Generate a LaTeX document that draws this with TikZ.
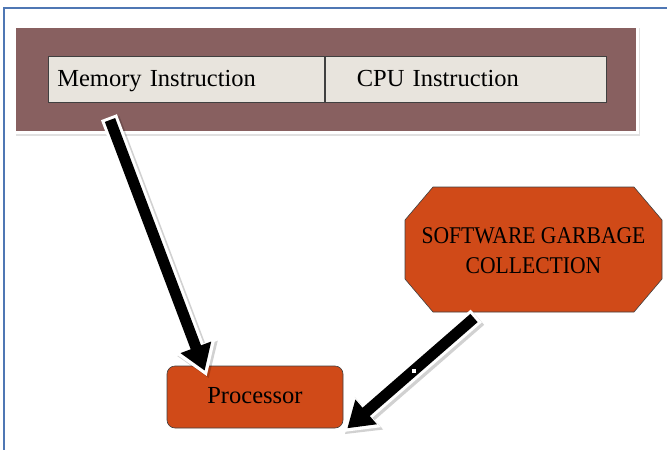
\documentclass[tikz,border=0pt]{standalone}
\usepackage{fontspec}
\setmainfont{Liberation Serif}
\newfontfamily\narrowserif[FakeStretch=0.9]{Liberation Serif}
\usetikzlibrary{arrows.meta,calc}
\definecolor{frameblue}{RGB}{79,119,180}
\definecolor{plum}{RGB}{136,96,96}
\definecolor{paper}{RGB}{232,228,221}
\definecolor{rust}{RGB}{208,74,24}
\tikzset{
  cell/.style={draw=black!75, line width=0.6pt, fill=paper, anchor=north west,
    minimum height=46pt, inner ysep=0pt, align=left,
    text height=16pt, text depth=2pt,
    font=\fontsize{24.5}{28}\selectfont},
  procbox/.style={draw=black!75, line width=0.6pt, fill=rust, rounded corners=8pt,
    minimum width=176pt, minimum height=62pt, text height=16pt, text depth=3pt,
    font=\fontsize{24.5}{28}\selectfont},
  gctext/.style={minimum width=257pt, minimum height=125pt, align=center,
    font=\narrowserif\fontsize{24}{30}\selectfont},
  fatshadow/.style={black, opacity=0.18, line width=18pt,
    -{Triangle[length=32pt,width=41pt]}},
  fatedge/.style={white, line width=17pt, -{Triangle[length=32pt,width=40pt]}},
  fatarrow/.style={black, line width=11pt, -{Triangle[length=25pt,width=31pt]}}
}
\begin{document}
\begin{tikzpicture}[x=1pt,y=-1pt]
\useasboundingbox (0,0) rectangle (667,450);

% page frame
\draw[frameblue, line width=1.5pt] (4,451) -- (4,8) -- (668,8);

% instruction banner
\fill[black, opacity=0.12] (16,28) rectangle (640,136);
\fill[black, opacity=0.12] (17,29) rectangle (639,134);
\draw[white, line width=3pt, fill=plum] (14,26) rectangle (637,132);
\node[cell, minimum width=276pt, text width=258pt, inner xsep=9pt] (mem) at (48,56)
  {Memory Instruction};
\node[cell, minimum width=281pt, text width=217pt, inner xsep=32pt] (cpu) at (mem.north east)
  {CPU Instruction};

% processor
\node[procbox] (proc) at (255,397) {Processor};

% garbage collector (chamfered box)
\filldraw[draw=black!75, line width=0.6pt, fill=rust]
  (433,187) -- (634,187) -- (662,220) -- (662,279) -- (634,312) -- (433,312)
  -- (405,279) -- (405,220) -- cycle;
\node[gctext] (gc) at (533.5,251) {SOFTWARE GARBAGE\\COLLECTION};

% connector end points
\coordinate (t1) at (110,120);
\coordinate (h1) at ($(proc.north west)+(38,5)$);
\coordinate (t2) at (474,318);
\coordinate (h2) at ($(proc.south east)+(4,0)$);

% fat arrows: soft shadow, white outline, black body
\foreach \s/\h in {t1/h1, t2/h2} {
  \draw[fatshadow, transform canvas={shift={(2pt,-2pt)}}]
    ($(\s)!-3pt!(\h)$) -- ($(\h)!-6pt!(\s)$);
  \draw[fatedge] ($(\s)!-3pt!(\h)$) -- ($(\h)!-6pt!(\s)$);
  \draw[fatarrow] (\s) -- (\h);
}
\fill[white] (412,369) rectangle (416,373);
\end{tikzpicture}
\end{document}
